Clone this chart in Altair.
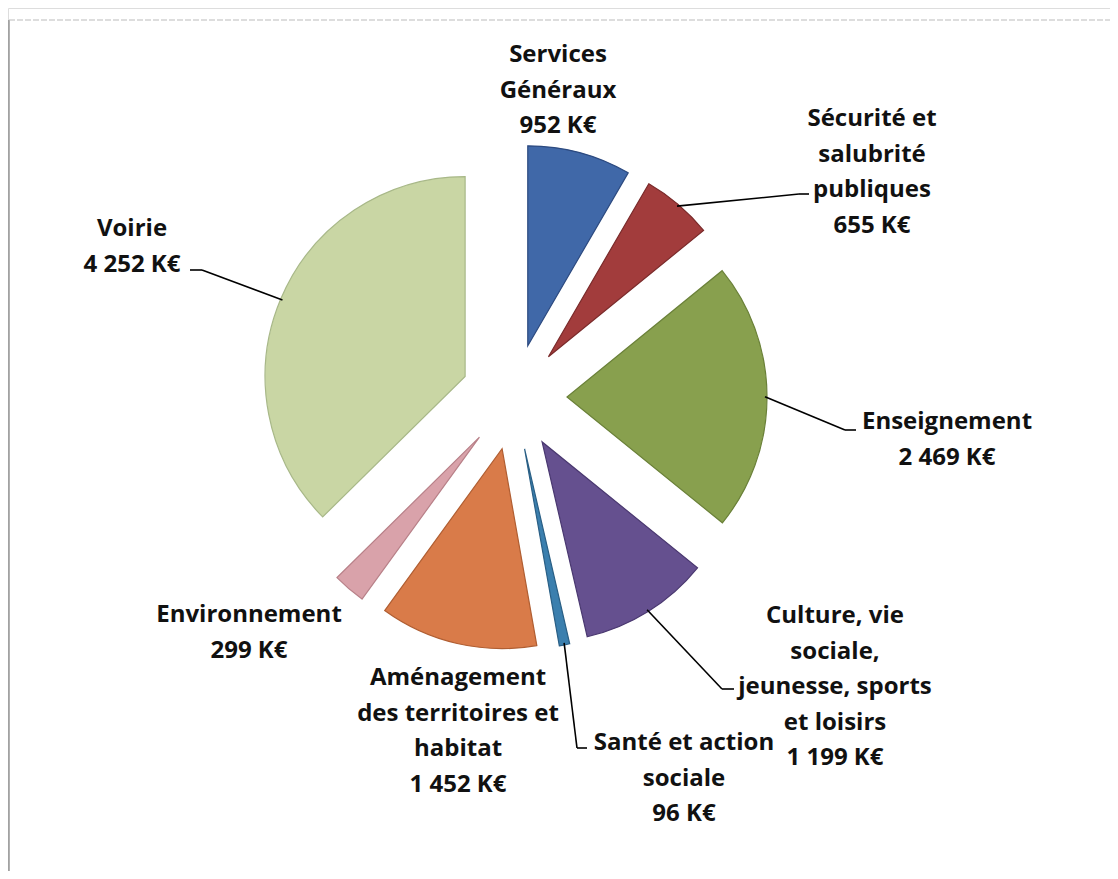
import altair as alt
import pandas as pd

# ---- data ----
categories = [
    "Services Généraux",
    "Sécurité et salubrité publiques",
    "Enseignement",
    "Culture, vie sociale, jeunesse, sports et loisirs",
    "Santé et action sociale",
    "Aménagement des territoires et habitat",
    "Environnement",
    "Voirie",
]
values = [952, 655, 2469, 1199, 96, 1452, 299, 4252]
label_lines = [
    ["Services", "Généraux"],
    ["Sécurité et", "salubrité", "publiques"],
    ["Enseignement"],
    ["Culture, vie", "sociale,", "jeunesse, sports", "et loisirs"],
    ["Santé et action", "sociale"],
    ["Aménagement", "des territoires et", "habitat"],
    ["Environnement"],
    ["Voirie"],
]

# ---- styling / layout (page pixel coordinates) ----
fills = ["#4068a8", "#a23c3c", "#88a04e", "#65508f", "#3b7fae", "#d97b49", "#d9a2aa", "#c9d6a4"]
strokes = ["#2c4a80", "#7a2a2a", "#6a8038", "#4a3870", "#2a5f85", "#b05e32", "#b88088", "#a8b888"]
M = 8  # page margin
CX, CY = 514 - M, 397 - M
R = 200
EXPLODE = 53
LINE_H = 35.5
# position of the first text line of each label (centre x, middle y)
label_pos = [(558, 55), (872, 119), (947, 422), (835, 616), (684, 743), (458, 678), (249, 615), (132, 229)]
# leader: (elbow_x, elbow_y) and horizontal end x, or None
leaders = [None, (799, 194), (845, 430), (722, 689), (577, 748), None, None, (202, 270)]
leader_end = [None, 809, 856, 734, 587, None, None, 190]


def fmt(v):
    return f"{v:,}".replace(",", " ") + " K€"


rows = []
for i, (c, v) in enumerate(zip(categories, values)):
    lx, ly = label_pos[i]
    row = dict(
        order=i,
        category=c,
        value=v,
        label="\n".join(label_lines[i] + [fmt(v)]),
        lab_x=lx - M,
        lab_y=ly - M,
    )
    if leaders[i] is not None:
        row.update(elb_x=leaders[i][0] - M, elb_y=leaders[i][1] - M, end_x=leader_end[i] - M)
    rows.append(row)
df = pd.DataFrame(rows)

base = (
    alt.Chart(df)
    .transform_joinaggregate(total="sum(value)")
    .transform_window(cum="sum(value)", sort=[alt.SortField("order")], frame=[None, 0])
    .transform_calculate(start="2*PI*(datum.cum - datum.value)/datum.total")
    .transform_calculate(end="2*PI*datum.cum/datum.total")
    .transform_calculate(mid="(datum.start + datum.end)/2")
    .transform_calculate(cx=f"{CX} + {EXPLODE}*sin(datum.mid)")
    .transform_calculate(cy=f"{CY} - {EXPLODE}*cos(datum.mid)")
    .transform_calculate(sx=f"{CX} + {EXPLODE + R - 2}*sin(datum.mid)")
    .transform_calculate(sy=f"{CY} - {EXPLODE + R - 2}*cos(datum.mid)")
)

arcs = base.mark_arc(radius=R, strokeWidth=1.2).encode(
    theta=alt.Theta("start:Q", scale=None),
    theta2="end:Q",
    x=alt.X("cx:Q", scale=None),
    y=alt.Y("cy:Q", scale=None),
    color=alt.Color("category:N", scale=alt.Scale(domain=categories, range=fills), legend=None),
    stroke=alt.Stroke("category:N", scale=alt.Scale(domain=categories, range=strokes), legend=None),
)

lead1 = base.transform_filter("isValid(datum.elb_x)").mark_rule(color="#000000", strokeWidth=1.6).encode(
    x=alt.X("sx:Q", scale=None),
    y=alt.Y("sy:Q", scale=None),
    x2="elb_x:Q",
    y2="elb_y:Q",
)
lead2 = base.transform_filter("isValid(datum.elb_x)").mark_rule(color="#000000", strokeWidth=1.6).encode(
    x=alt.X("elb_x:Q", scale=None),
    y=alt.Y("elb_y:Q", scale=None),
    x2="end_x:Q",
)

labels = base.mark_text(
    align="center",
    baseline="middle",
    font="Open Sans",
    fontWeight="bold",
    fontSize=24,
    lineHeight=LINE_H,
    lineBreak="\n",
    color="#111111",
).encode(
    x=alt.X("lab_x:Q", scale=None),
    y=alt.Y("lab_y:Q", scale=None),
    text="label:N",
)

blank = alt.Data(values=[{"k": 1}])
border_left = alt.Chart(blank).mark_rule(color="#666666", strokeWidth=1).encode(
    x=alt.value(1), y=alt.value(12), y2=alt.value(871)
)
border_top = alt.Chart(blank).mark_rule(color="#bbbbbb", strokeWidth=1, strokeDash=[6, 2]).encode(
    x=alt.value(1), x2=alt.value(1102), y=alt.value(12)
)

chart = (
    alt.layer(border_left, border_top, arcs, lead1, lead2, labels)
    .properties(width=1102, height=863, autosize=alt.AutoSizeParams(type="none"), padding=0)
    .configure_view(stroke=None)
    .configure(background="#ffffff")
)

chart.save("out.html", embed_options={"renderer": "svg", "actions": False})
